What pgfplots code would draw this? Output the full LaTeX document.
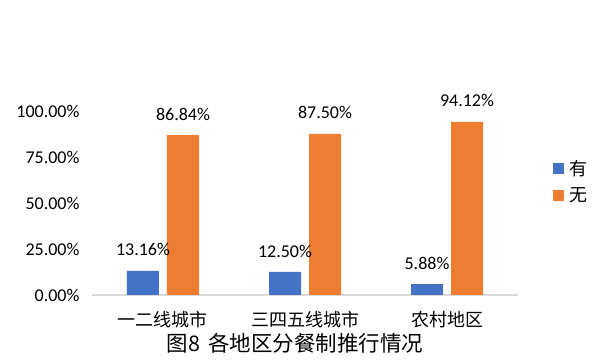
\documentclass[border=0pt]{standalone}
\usepackage{pgfplots}
\pgfplotsset{compat=1.18}
\usepackage{fontspec}
\setmainfont{Carlito}
\newfontfamily\cjk{Noto Sans CJK SC}
\definecolor{cblue}{HTML}{4472C4}
\definecolor{corange}{HTML}{ED7D31}
\begin{document}
\begin{tikzpicture}
\useasboundingbox (-92bp,-68bp) rectangle (512bp,295bp);
\begin{axis}[
  at={(0,0)}, anchor=south west,
  scale only axis, width=426bp, height=184bp,
  xmin=-0.5, xmax=2.5, ymin=0, ymax=100,
  ybar=8bp, bar width=32bp,
  axis x line*=bottom, axis y line*=left,
  y axis line style={draw=none},
  x axis line style={draw=black!15, line width=1.6bp, -},
  tick style={draw=none},
  xtick={0,1,2},
  xticklabels={一二线城市,三四五线城市,农村地区},
  xticklabel style={font=\cjk\fontsize{18bp}{20bp}\selectfont, anchor=center, yshift=-20bp},
  ytick={0,25,50,75,100},
  yticklabel={\pgfmathprintnumber[fixed,fixed zerofill,precision=2]{\tick}\%},
  yticklabel style={font=\fontsize{18bp}{20bp}\selectfont, anchor=east, xshift=-9bp},
  /pgf/number format/assume math mode=true,
  nodes near coords={\pgfmathprintnumber[fixed,fixed zerofill,precision=2,assume math mode=true]{\pgfplotspointmeta}\%},
  nodes near coords style={font=\fontsize{18bp}{20bp}\selectfont, anchor=base, yshift=15bp, text=black},
  legend style={draw=none, fill=none, at={(1.075,0.617)}, anchor=west,
    row sep=8bp, font=\cjk\fontsize{18bp}{20bp}\selectfont,
    nodes={inner sep=1.5bp}},
  legend cell align=left,
  legend image code/.code={\fill[#1] (0bp,-5.5bp) rectangle (11bp,5.5bp); \path (11bp,0bp) -- (15bp,0bp);},
]
\addplot[draw=none, fill=cblue] coordinates {(0,13.16) (1,12.50) (2,5.88)};
\addplot[draw=none, fill=corange] coordinates {(0,86.84) (1,87.50) (2,94.12)};
\legend{有,无}
\end{axis}
\node[font=\cjk\fontsize{21.5bp}{24bp}\selectfont, anchor=center] at (203bp,-48bp) {图8\hspace{8bp}各地区分餐制推行情况};
\end{tikzpicture}
\end{document}
